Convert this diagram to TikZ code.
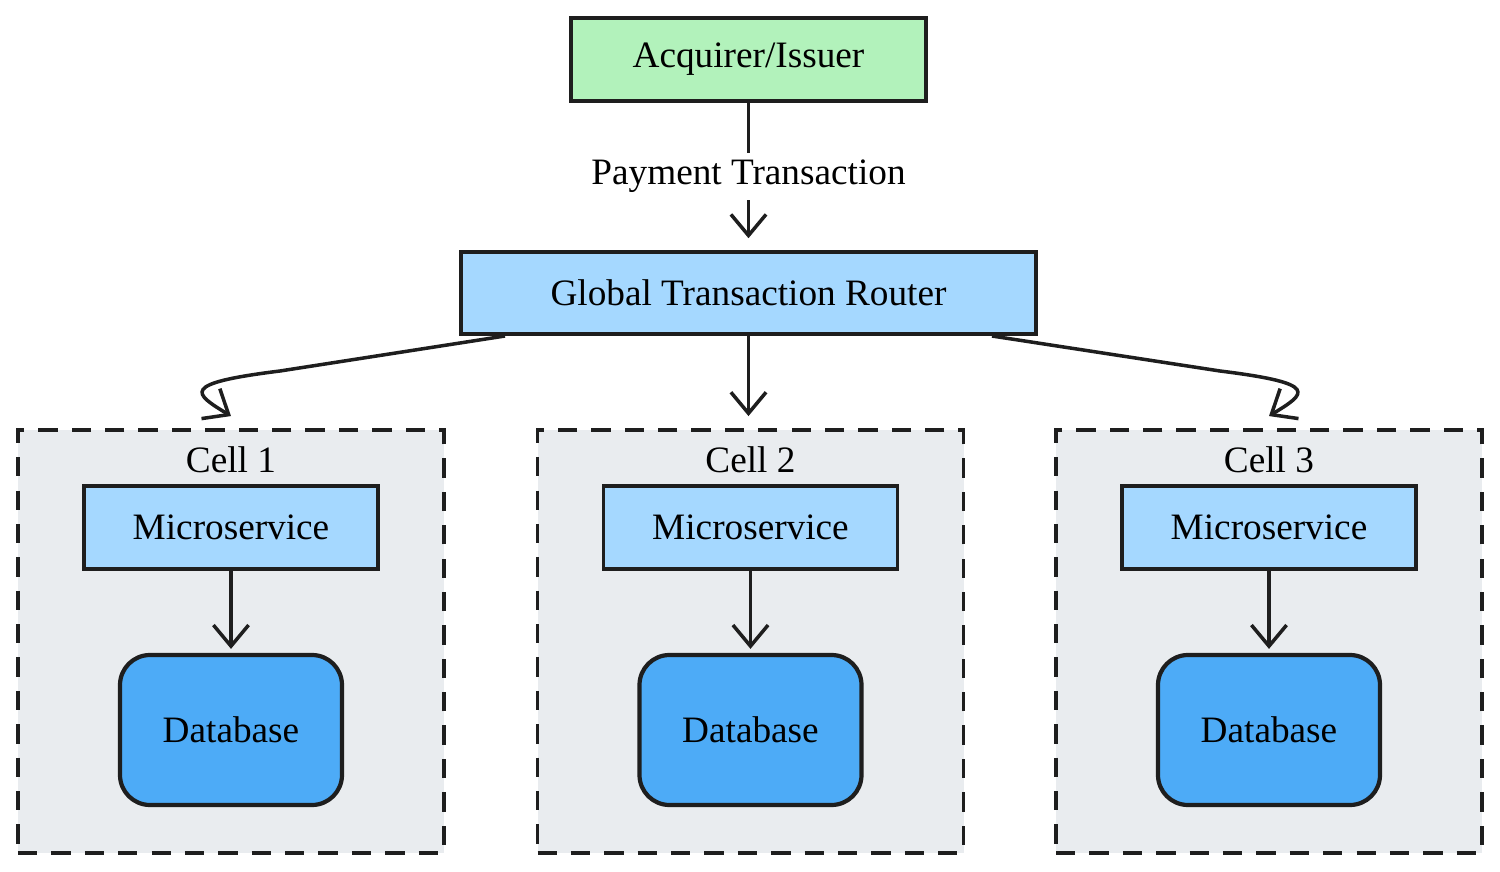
\documentclass[tikz,border=0pt]{standalone}
\usepackage{fontspec}
\setmainfont{Liberation Serif}
\usetikzlibrary{arrows.meta,bending}
\definecolor{acqgreen}{HTML}{B2F2BB}
\definecolor{routeblue}{HTML}{A5D8FF}
\definecolor{dbblue}{HTML}{4DABF7}
\definecolor{cellgray}{HTML}{E9ECEF}
\definecolor{ink}{HTML}{1E1E1E}
\tikzset{
  box/.style={draw=ink, line width=1pt, minimum height=0.83cm, inner sep=0pt},
  cellbox/.style={draw=ink, fill=cellgray, line width=1.1pt, dash pattern=on 5.5pt off 4pt, minimum width=4.26cm, minimum height=4.23cm, inner sep=0pt},
  dbbox/.style={draw=ink, fill=dbblue, line width=1.2pt, rounded corners=0.3cm, minimum width=2.22cm, minimum height=1.5cm, inner sep=0pt},
  flow/.style={draw=ink, line width=1pt, shorten >=0.04cm, -{Straight Barb[length=6pt, width=10pt, line width=1pt]}}
}
\begin{document}
\begin{tikzpicture}[font=\fontsize{10.6}{13}\selectfont]
  \useasboundingbox (0,0) rectangle (15,-8.72);
  \node[box, fill=acqgreen, minimum width=3.55cm] (acq) at (7.485,-0.595) {Acquirer/Issuer};
  \node[box, fill=routeblue, minimum width=5.75cm, minimum height=0.82cm] (router) at (7.485,-2.93) {Global Transaction Router};
  \draw[flow, shorten >=0.12cm] (acq.south) -- (router.north) node[midway, fill=white, inner sep=2pt] (paylbl) {Payment Transaction};

  % the three cells
  \foreach \i/\x in {1/2.31, 2/7.505, 3/12.69} {
    \node[cellbox] (cell\i) at (\x,-6.415) {};
    \node (celllbl\i) at (\x,-4.6) {Cell \i};
    \node[box, fill=routeblue, minimum width=2.94cm] (micro\i) at (\x,-5.275) {Microservice};
    \node[dbbox] (db\i) at (\x,-7.3) {Database};
    \draw[flow] (micro\i) -- (db\i);
    \coordinate (cin\i) at ([yshift=0.12cm]cell\i.north);
  }

  \coordinate (rleft) at (5.05,-3.36);
  \coordinate (rright) at (9.92,-3.36);
  \draw[flow, shorten >=0pt] (rleft) -- (2.8,-3.71) .. controls (1.75,-3.84) and (1.95,-3.94) .. (cin1);
  \draw[flow, shorten >=0pt] (router.south) -- (cin2 -| router.south);
  \draw[flow, shorten >=0pt] (rright) -- (12.2,-3.71) .. controls (13.25,-3.84) and (13.05,-3.94) .. (cin3);
\end{tikzpicture}
\end{document}
